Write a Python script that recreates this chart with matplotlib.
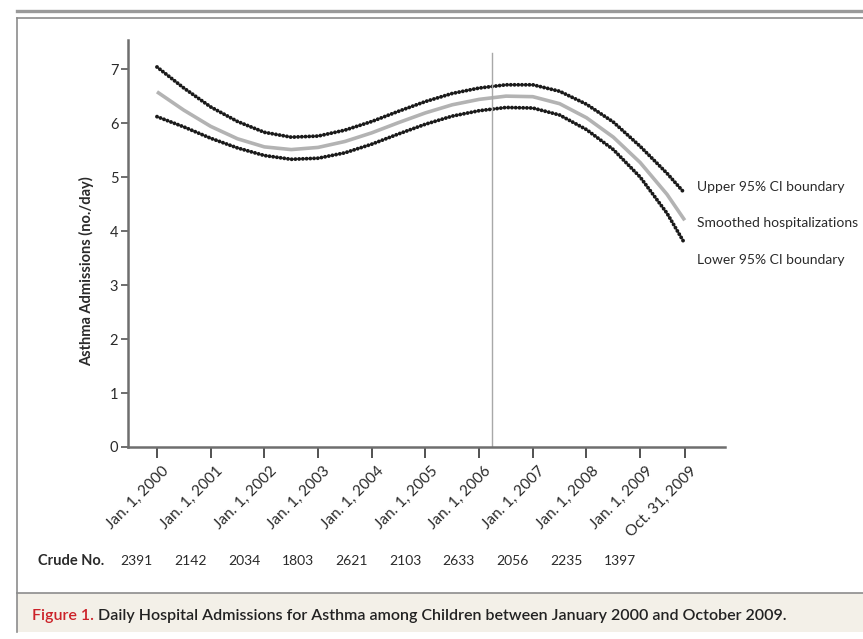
import matplotlib.pyplot as plt
import matplotlib.transforms as mtransforms
from matplotlib.patches import Rectangle
from matplotlib.lines import Line2D

# years since Jan. 1, 2000
years = [0, 0.5, 1, 1.5, 2, 2.5, 3, 3.5, 4, 4.5, 5, 5.5, 6, 6.5, 7, 7.5,
         8, 8.5, 9, 9.5, 9.83]
upper = [7.04, 6.65, 6.30, 6.03, 5.83, 5.74, 5.76, 5.87, 6.03, 6.22, 6.40,
         6.55, 6.65, 6.71, 6.71, 6.59, 6.35, 6.02, 5.57, 5.07, 4.70]
smooth = [6.58, 6.24, 5.94, 5.71, 5.56, 5.51, 5.55, 5.66, 5.82, 6.01, 6.19,
          6.34, 6.44, 6.50, 6.49, 6.36, 6.10, 5.74, 5.27, 4.68, 4.20]
lower = [6.12, 5.93, 5.72, 5.54, 5.40, 5.33, 5.35, 5.45, 5.61, 5.80, 5.98,
         6.13, 6.23, 6.29, 6.28, 6.15, 5.88, 5.51, 5.00, 4.33, 3.77]

tick_years = [0, 1, 2, 3, 4, 5, 6, 7, 8, 9, 9.83]
tick_labels = ['Jan. 1, 2000', 'Jan. 1, 2001', 'Jan. 1, 2002', 'Jan. 1, 2003',
               'Jan. 1, 2004', 'Jan. 1, 2005', 'Jan. 1, 2006', 'Jan. 1, 2007',
               'Jan. 1, 2008', 'Jan. 1, 2009', 'Oct. 31, 2009']
crude_no = [2391, 2142, 2034, 1803, 2621, 2103, 2633, 2056, 2235, 1397]
marker_year = 6.24
series_labels = ['Upper 95% CI boundary', 'Smoothed hospitalizations',
                 'Lower 95% CI boundary']
caption_head = 'Figure 1.'
caption_body = (' Daily Hospital Admissions for Asthma among Children between '
                'January 2000 and October 2009.')

plt.rcParams['font.family'] = ['Lato', 'DejaVu Sans']
txt = '#2a2a2a'

fig = plt.figure(figsize=(8.63, 6.39), dpi=100)

# frame of the figure panel
fig.add_artist(Line2D([17/863, 1], [1-11/639]*2, color='#9a9a9a', lw=2.4))
fig.add_artist(Line2D([17/863, 1], [1-18/639]*2, color='#8c8c8c', lw=1.2))
fig.add_artist(Line2D([17/863]*2, [1-18/639, 1-632/639], color='#8c8c8c', lw=1.2))
fig.add_artist(Rectangle((17/863, 1-632/639), 1-17/863, 39/639,
                         transform=fig.transFigure, color='#f3f0e8', lw=0))
fig.add_artist(Line2D([17/863, 1], [1-593/639]*2, color='#8c8c8c', lw=1.2))

ax = fig.add_axes([128/863, 1-447/639, (725-128)/863, (447-40)/639])
dots = (0, (0.01, 0.95))
ax.plot(years, smooth, color='#b3b3b3', lw=2.6, solid_capstyle='butt')
ax.plot(years, upper, color='#1a1a1a', lw=2.8, linestyle=dots, dash_capstyle='round')
ax.plot(years, lower, color='#1a1a1a', lw=2.8, linestyle=dots, dash_capstyle='round')
ax.plot([marker_year, marker_year], [0, 7.3], color='#a8a8a8', lw=1)

ax.set_xlim(-0.54, 10.58)
ax.set_ylim(0, 7.54)
for s in ['top', 'right']:
    ax.spines[s].set_visible(False)
for s in ['left', 'bottom']:
    ax.spines[s].set_color('#6e6e6e')
    ax.spines[s].set_linewidth(1.8)

ax.set_yticks(range(0, 8))
ax.tick_params(axis='y', length=5, width=1.2, color='#555555', pad=2,
               labelsize=10.5, labelcolor=txt)
ax.set_xticks(tick_years)
ax.set_xticklabels(tick_labels, rotation=45, ha='right', va='top',
                   rotation_mode='anchor')
ax.tick_params(axis='x', length=8, width=1.2, color='#333333', pad=4,
               labelsize=11, labelcolor=txt)
shift = mtransforms.ScaledTranslation(5/100, 0, fig.dpi_scale_trans)
for lab in ax.get_xticklabels():
    lab.set_transform(lab.get_transform() + shift)

ax.set_ylabel('Asthma Admissions (no./day)', fontsize=10.5, weight='bold',
              color=txt)
ax.yaxis.set_label_coords(-0.057, 0.432)

ax.text(10.06, 4.81, series_labels[0], fontsize=10, color=txt, va='center', clip_on=False)
ax.text(10.06, 4.15, series_labels[1], fontsize=10, color=txt, va='center', clip_on=False)
ax.text(10.06, 3.46, series_labels[2], fontsize=10, color=txt, va='center', clip_on=False)

# crude numbers row
row = mtransforms.blended_transform_factory(ax.transData, fig.transFigure)
fig.text(38/863, 1-561/639, 'Crude No.', fontsize=10.5, weight='bold',
         color=txt, va='center')
for i, n in enumerate(crude_no):
    ax.text(i - 0.38, 1-561/639, str(n), transform=row, fontsize=10,
            color=txt, ha='center', va='center', clip_on=False)

# caption in two colours
t1 = fig.text(32/863, 1-620/639, caption_head, fontsize=11.5, weight='semibold',
              color='#cc2229', va='baseline')
fig.canvas.draw()
bb = t1.get_window_extent().transformed(fig.transFigure.inverted())
fig.text(bb.x1, 1-620/639, caption_body, fontsize=11.5, weight='semibold',
         color='#222222', va='baseline')

fig.savefig('out.png', dpi=100)
